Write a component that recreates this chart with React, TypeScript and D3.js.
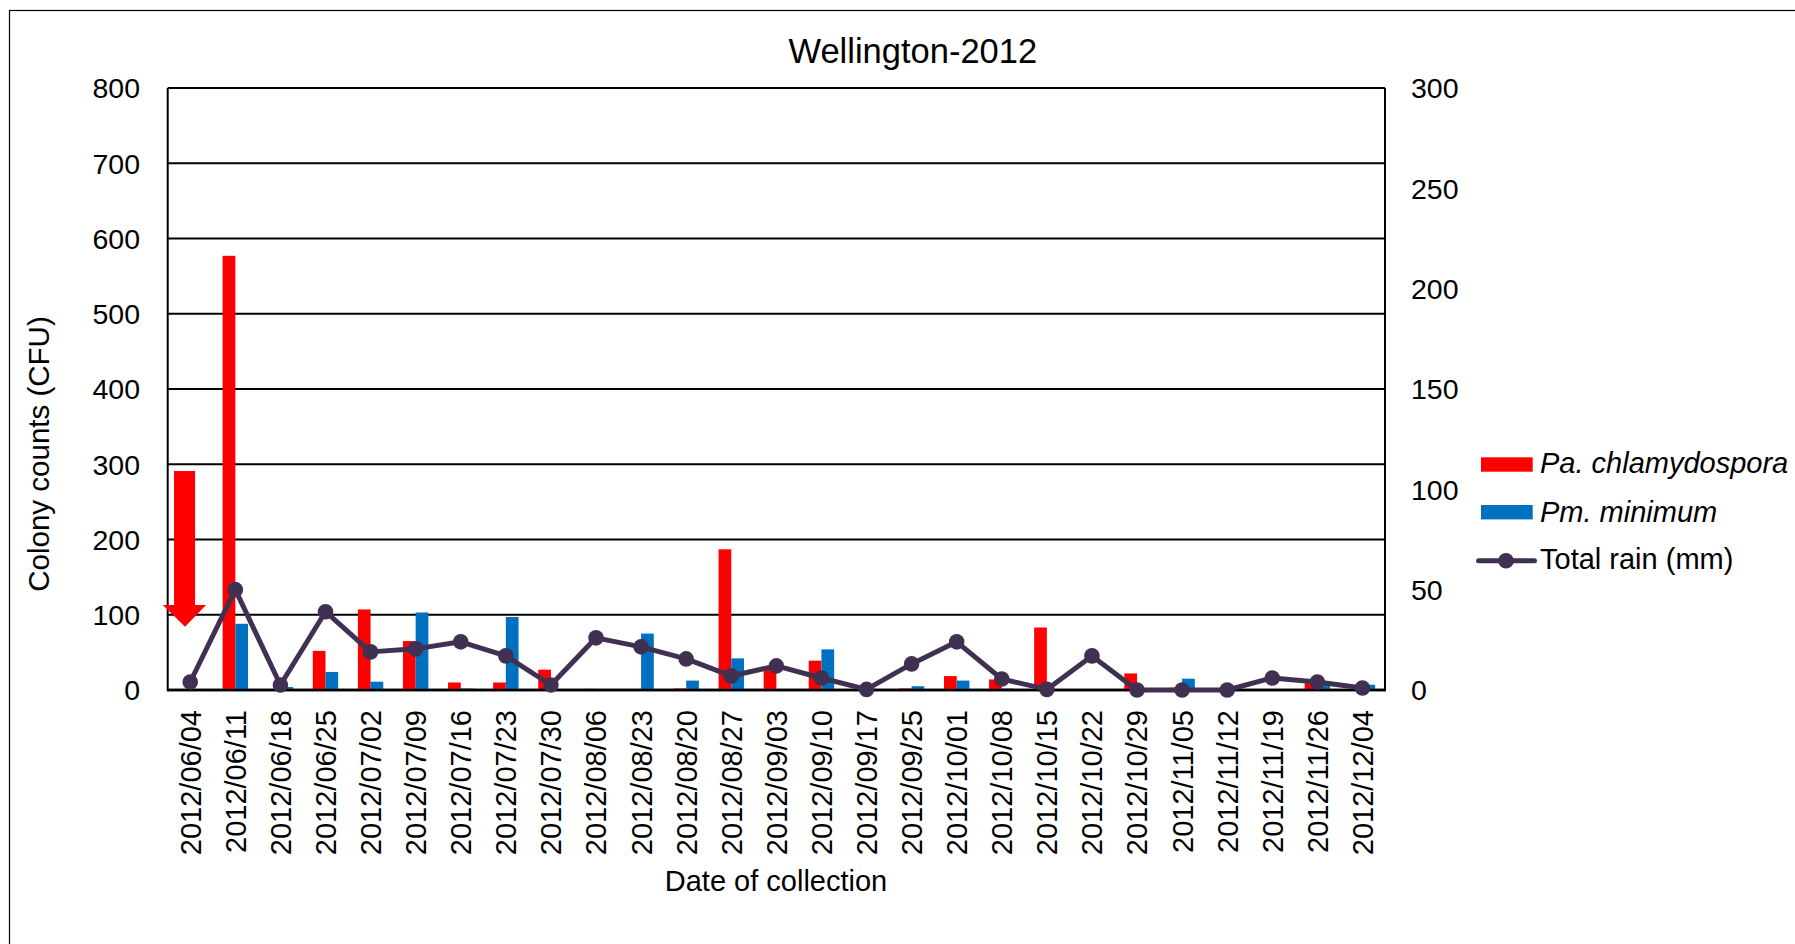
import React from 'react';
import * as d3 from 'd3';

// Weekly sampling dates (category axis, in recorded order)
const dates = [
  '2012/06/04', '2012/06/11', '2012/06/18', '2012/06/25', '2012/07/02', '2012/07/09',
  '2012/07/16', '2012/07/23', '2012/07/30', '2012/08/06', '2012/08/23', '2012/08/20',
  '2012/08/27', '2012/09/03', '2012/09/10', '2012/09/17', '2012/09/25', '2012/10/01',
  '2012/10/08', '2012/10/15', '2012/10/22', '2012/10/29', '2012/11/05', '2012/11/12',
  '2012/11/19', '2012/11/26', '2012/12/04',
];

// Colony counts (CFU), left axis
const paChlamydospora = [
  0, 577, 0, 52, 107, 65, 10, 10, 27, 1.5, 0, 2, 187, 30, 39, 0, 2, 18.5, 14, 83, 0, 22, 3, 0, 0, 11, 0,
];
const pmMinimum = [
  0, 88, 4, 24, 11, 103, 2, 97, 0, 0, 75, 12.5, 42, 0, 54, 0, 5, 12.5, 2, 0, 0, 0, 15, 0, 0, 7, 7,
];

// Total rain (mm), right axis
const totalRain = [
  4, 50, 2.5, 39, 19, 20.5, 24, 17, 2.5, 26, 21.5, 15.5, 7, 12, 6, 0.3, 13, 24, 5.5, 0.3, 17, 0, 0, 0, 6, 4, 1,
];

const leftTicks = [0, 100, 200, 300, 400, 500, 600, 700, 800];
const rightTicks = [0, 50, 100, 150, 200, 250, 300];

// Annotation arrow on the first sampling date (left-axis units)
const arrowTop = 291;
const arrowHeadBase = 113;
const arrowTip = 84;

const RED = '#FF0000';
const BLUE = '#0070C0';
const RAIN = '#403152';
const FONT = '"Liberation Sans", Arial, Helvetica, sans-serif';

const W = 1795;
const H = 944;
const plot = { left: 167.7, right: 1385, top: 88, bottom: 690 };

export default function App() {
  const x = d3.scaleBand<string>().domain(dates).range([plot.left, plot.right]).paddingInner(0).paddingOuter(0);
  const yL = d3.scaleLinear().domain([0, 800]).range([plot.bottom, plot.top]);
  const yR = d3.scaleLinear().domain([0, 300]).range([plot.bottom, plot.top]);
  const barW = x.bandwidth() * 0.2818;
  const cx = (d: string) => (x(d) as number) + x.bandwidth() / 2;

  const rainLine = d3
    .line<number>()
    .x((_, i) => cx(dates[i]))
    .y((v) => yR(v));

  // arrow geometry from scales
  const ax = cx(dates[0]) - 5.7;
  const arrowPath = [
    [ax - 10.5, yL(arrowTop)],
    [ax + 10.5, yL(arrowTop)],
    [ax + 10.5, yL(arrowHeadBase)],
    [ax + 21.5, yL(arrowHeadBase)],
    [ax + 0.5, yL(arrowTip)],
    [ax - 21.8, yL(arrowHeadBase)],
    [ax - 10.5, yL(arrowHeadBase)],
  ];

  const legendX = 1481;
  const legendTextX = 1540;

  return (
    <svg
      width={W}
      height={H}
      style={{ position: 'absolute', left: 0, top: 0, background: '#fff' }}
      fontFamily={FONT}
    >
      <rect x={0} y={0} width={W} height={H} fill="#fff" />
      {/* chart frame (extends past the page on right and bottom) */}
      <rect x={9.5} y={10.5} width={3000} height={3000} fill="none" stroke="#000" strokeWidth={1.2} />

      {/* title */}
      <text x={912.8} y={62.7} fontSize={34.5} textAnchor="middle" fill="#000">
        Wellington-2012
      </text>

      {/* horizontal gridlines */}
      {leftTicks.map((t) => (
        <line
          key={'g' + t}
          x1={plot.left}
          x2={plot.right}
          y1={yL(t)}
          y2={yL(t)}
          stroke="#000"
          strokeWidth={t === 0 ? 2.6 : 1.8}
        />
      ))}

      {/* bars */}
      {dates.map((d, i) => (
        <g key={'b' + d}>
          {paChlamydospora[i] > 0 && (
            <rect
              x={cx(d) - barW}
              y={yL(paChlamydospora[i])}
              width={barW}
              height={yL(0) - yL(paChlamydospora[i])}
              fill={RED}
            />
          )}
          {pmMinimum[i] > 0 && (
            <rect
              x={cx(d)}
              y={yL(pmMinimum[i])}
              width={barW}
              height={yL(0) - yL(pmMinimum[i])}
              fill={BLUE}
            />
          )}
        </g>
      ))}

      {/* axis lines */}
      <line x1={plot.left} x2={plot.left} y1={plot.top} y2={plot.bottom + 1.3} stroke="#000" strokeWidth={2} />
      <line x1={plot.right} x2={plot.right} y1={plot.top} y2={plot.bottom + 1.3} stroke="#000" strokeWidth={2} />
      <line x1={plot.left} x2={plot.right} y1={plot.bottom} y2={plot.bottom} stroke="#000" strokeWidth={2.6} />

      {/* rain line */}
      <path d={rainLine(totalRain) || ''} fill="none" stroke={RAIN} strokeWidth={5} strokeLinejoin="round" />
      {totalRain.map((v, i) => (
        <circle key={'m' + i} cx={cx(dates[i])} cy={yR(v)} r={7.8} fill={RAIN} />
      ))}

      {/* left tick labels */}
      {leftTicks.map((t) => (
        <text key={'l' + t} x={140} y={yL(t)} dy="0.36em" fontSize={28.5} textAnchor="end" fill="#000">
          {t}
        </text>
      ))}
      {/* right tick labels */}
      {rightTicks.map((t) => (
        <text key={'r' + t} x={1411} y={yR(t)} dy="0.36em" fontSize={28.5} textAnchor="start" fill="#000">
          {t}
        </text>
      ))}

      {/* category labels */}
      {dates.map((d) => (
        <text
          key={'x' + d}
          transform={`translate(${cx(d)},710) rotate(-90)`}
          dy="0.36em"
          fontSize={29}
          textAnchor="end"
          fill="#000"
        >
          {d}
        </text>
      ))}

      {/* axis titles */}
      <text transform="translate(49,454) rotate(-90)" fontSize={29.5} textAnchor="middle" fill="#000">
        Colony counts (CFU)
      </text>
      <text x={776} y={891} fontSize={29} textAnchor="middle" fill="#000">
        Date of collection
      </text>

      {/* annotation arrow */}
      <polygon points={arrowPath.map((p) => p.join(',')).join(' ')} fill={RED} />

      {/* legend */}
      <rect x={legendX} y={457.3} width={51.7} height={14.4} fill={RED} />
      <text x={legendTextX} y={472.7} fontSize={29} fontStyle="italic" fill="#000">
        Pa. chlamydospora
      </text>
      <rect x={legendX} y={505} width={51.7} height={14.4} fill={BLUE} />
      <text x={legendTextX} y={521.5} fontSize={29} fontStyle="italic" fill="#000">
        Pm. minimum
      </text>
      <line x1={1478.5} x2={1534.5} y1={560.7} y2={560.7} stroke={RAIN} strokeWidth={5} strokeLinecap="round" />
      <circle cx={1506} cy={560.7} r={7.8} fill={RAIN} />
      <text x={legendTextX} y={568.5} fontSize={29} fill="#000">
        Total rain (mm)
      </text>
    </svg>
  );
}
